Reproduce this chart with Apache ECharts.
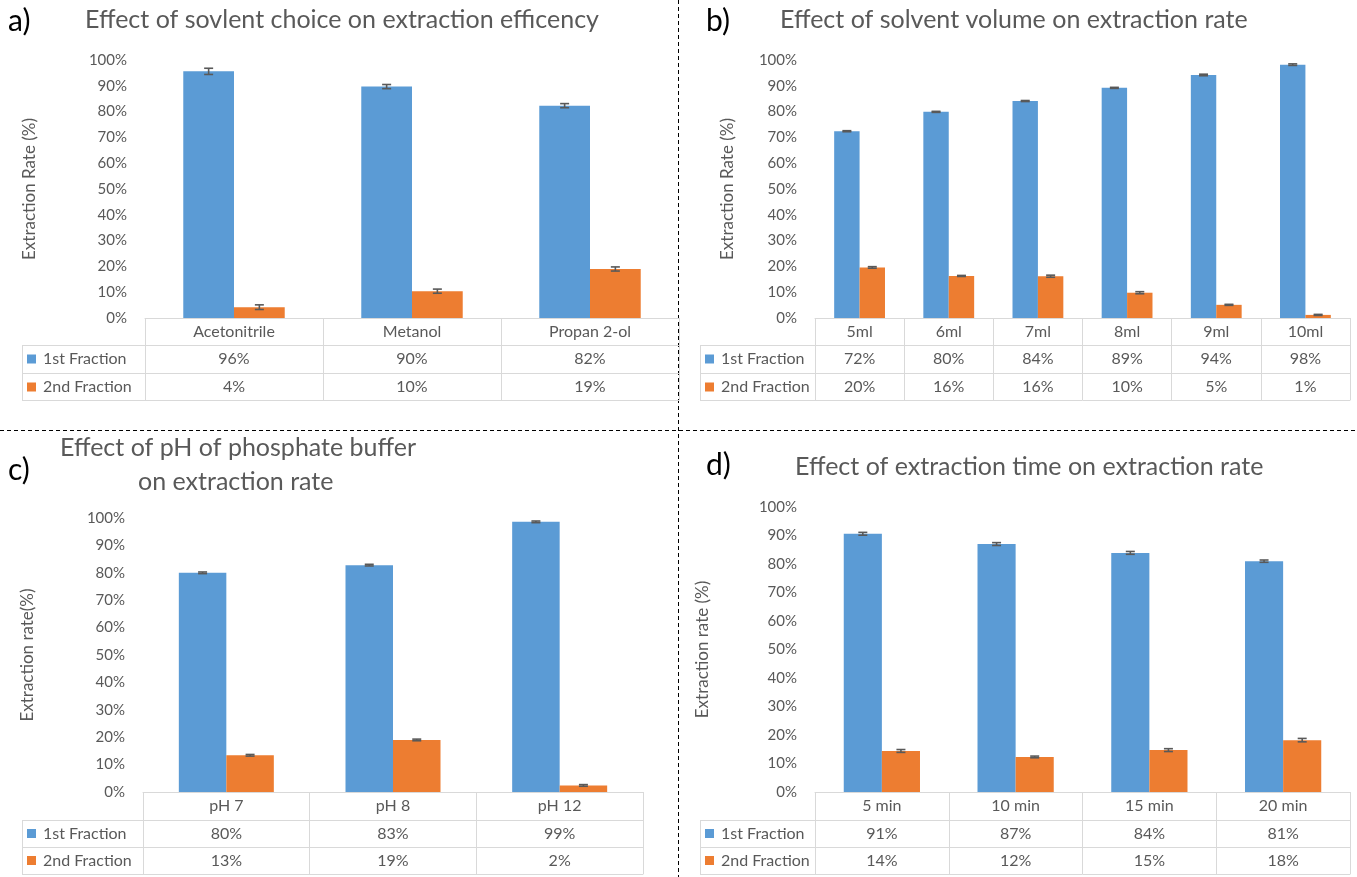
<!DOCTYPE html>
<html><head><meta charset="utf-8">
<script src="https://cdn.jsdelivr.net/npm/echarts@6/dist/echarts.min.js"></script>
<style>html,body{margin:0;padding:0;background:#fff}#c{width:1357px;height:877px}</style>
</head><body><div id="c"></div>
<script>
// ---------- DATA ----------
const seriesNames = ['1st Fraction', '2nd Fraction'];

const catsA = ['Acetonitrile', 'Metanol', 'Propan 2-ol'];
const firstA = [95.6, 89.7, 82.3];
const secondA = [4.2, 10.4, 19.0];
const errFirstA = [1.2, 0.8, 0.8];
const errSecondA = [0.9, 0.8, 0.8];

const catsB = ['5ml', '6ml', '7ml', '8ml', '9ml', '10ml'];
const firstB = [72.4, 79.9, 84.1, 89.2, 94.2, 98.2];
const secondB = [19.6, 16.3, 16.2, 9.8, 5.1, 1.2];
const errFirstB = [0.2, 0.2, 0.2, 0.2, 0.3, 0.3];
const errSecondB = [0.3, 0.2, 0.4, 0.4, 0.2, 0.2];

const catsC = ['pH 7', 'pH 8', 'pH 12'];
const firstC = [80.0, 82.8, 98.6];
const secondC = [13.4, 19.0, 2.4];
const errFirstC = [0.3, 0.3, 0.3];
const errSecondC = [0.3, 0.3, 0.3];

const catsD = ['5 min', '10 min', '15 min', '20 min'];
const firstD = [90.6, 87.0, 83.9, 81.0];
const secondD = [14.4, 12.3, 14.7, 18.2];
const errFirstD = [0.5, 0.5, 0.5, 0.4];
const errSecondD = [0.5, 0.3, 0.5, 0.6];

const titles = [
  'Effect of sovlent choice on extraction efficency',
  'Effect of solvent volume on extraction rate',
  'Effect of pH of phosphate buffer',
  'on extraction rate',
  'Effect of extraction time on extraction rate'
];
const panelLabels = ['a)', 'b)', 'c)', 'd)'];
const yNames = ['Extraction Rate (%)', 'Extraction Rate (%)', 'Extraction rate(%)', 'Extraction rate (%)'];

// ---------- STYLE / LAYOUT ----------
const FONT = 'Lato, "Open Sans", sans-serif';
const BLUE = '#5b9bd5', ORANGE = '#ed7d31', GRAY = '#595959', LINE = '#d9d9d9';
const BAR_PCT = 0.285;

const panels = [
  {cats: catsA, first: firstA, second: secondA, ef: errFirstA, es: errSecondA,
   L: 145, R: 679, T: 60, rows: [318, 345, 373, 400], tableLeft: 22, nameGap: 107, yName: yNames[0]},
  {cats: catsB, first: firstB, second: secondB, ef: errFirstB, es: errSecondB,
   L: 815, R: 1350, T: 60, rows: [318, 345, 373, 400], tableLeft: 700, nameGap: 79, yName: yNames[1]},
  {cats: catsC, first: firstC, second: secondC, ef: errFirstC, es: errSecondC,
   L: 143, R: 643, T: 518, rows: [792, 820, 847, 874], tableLeft: 22, nameGap: 107, yName: yNames[2]},
  {cats: catsD, first: firstD, second: secondD, ef: errFirstD, es: errSecondD,
   L: 815, R: 1350, T: 507, rows: [792, 820, 847, 874], tableLeft: 700, nameGap: 104, yName: yNames[3]}
];

const fmt = v => Math.round(v) + '%';

function errRender(dir, n) {
  return function (params, api) {
    const c = api.value(0), v = api.value(1), e = api.value(2);
    const band = params.coordSys.width / n;
    const off = dir * band * BAR_PCT / 2;
    const top = api.coord([c, v + e]);
    const bot = api.coord([c, v - e]);
    const x = top[0] + off, hw = 4.5;
    const st = {stroke: GRAY, lineWidth: 1.6};
    return {type: 'group', children: [
      {type: 'line', shape: {x1: x, y1: top[1], x2: x, y2: bot[1]}, style: st},
      {type: 'line', shape: {x1: x - hw, y1: top[1], x2: x + hw, y2: top[1]}, style: st},
      {type: 'line', shape: {x1: x - hw, y1: bot[1], x2: x + hw, y2: bot[1]}, style: st}
    ]};
  };
}

const grid = [], xAxis = [], yAxis = [], series = [], legend = [], graphic = [];

panels.forEach((p, i) => {
  const r = p.rows;
  grid.push({left: p.L, top: p.T, width: p.R - p.L, height: r[0] - p.T, containLabel: false});
  const base = {type: 'category', gridIndex: i, position: 'bottom',
    axisLine: {show: true, lineStyle: {color: LINE, width: 1}},
    splitLine: {show: false}};
  const lab = {interval: 0, margin: 6, fontSize: 16, color: GRAY, fontFamily: FONT};
  xAxis.push(Object.assign({}, base, {data: p.cats, offset: 0,
    axisTick: {show: true, interval: 0, length: r[1] - r[0], lineStyle: {color: LINE}},
    axisLabel: lab}));
  xAxis.push(Object.assign({}, base, {data: p.first.map(fmt), offset: r[1] - r[0],
    axisTick: {show: true, interval: 0, length: r[2] - r[1], lineStyle: {color: LINE}},
    axisLabel: lab}));
  xAxis.push(Object.assign({}, base, {data: p.second.map(fmt), offset: r[2] - r[0],
    axisTick: {show: true, interval: 0, length: r[3] - r[2], lineStyle: {color: LINE}},
    axisLabel: lab}));
  xAxis.push(Object.assign({}, base, {data: p.cats, offset: r[3] - r[0],
    axisTick: {show: false}, axisLabel: {show: false}}));

  yAxis.push({type: 'value', gridIndex: i, min: 0, max: 100, interval: 10,
    axisLine: {show: false}, axisTick: {show: false}, splitLine: {show: false},
    axisLabel: {formatter: '{value}%', margin: 18, fontSize: 15, color: GRAY, fontFamily: FONT},
    name: p.yName, nameLocation: 'middle', nameGap: p.nameGap,
    nameTextStyle: {fontSize: 17, color: GRAY, fontFamily: FONT}});

  const xi = i * 4;
  series.push({type: 'bar', name: seriesNames[0], xAxisIndex: xi, yAxisIndex: i,
    data: p.first, barWidth: (BAR_PCT * 100) + '%', barGap: '0%',
    itemStyle: {color: BLUE}, silent: true});
  series.push({type: 'bar', name: seriesNames[1], xAxisIndex: xi, yAxisIndex: i,
    data: p.second, barWidth: (BAR_PCT * 100) + '%', barGap: '0%',
    itemStyle: {color: ORANGE}, silent: true});
  series.push({type: 'custom', name: 'err1-' + i, xAxisIndex: xi, yAxisIndex: i, z: 5,
    renderItem: errRender(-1, p.cats.length), encode: {x: 0, y: 1},
    data: p.first.map((v, k) => [k, v, p.ef[k]]), silent: true});
  series.push({type: 'custom', name: 'err2-' + i, xAxisIndex: xi, yAxisIndex: i, z: 5,
    renderItem: errRender(1, p.cats.length), encode: {x: 0, y: 1},
    data: p.second.map((v, k) => [k, v, p.es[k]]), silent: true});

  const rh = r[2] - r[1];
  legend.push({data: seriesNames, orient: 'vertical', left: p.tableLeft + 5, top: r[1] + (rh - 16) / 2,
    itemGap: rh - 16, itemWidth: 9, itemHeight: 9, icon: 'rect', padding: 0,
    textStyle: {fontSize: 16, color: GRAY, fontFamily: FONT, padding: [0, 0, 0, 2]},
    selectedMode: false});

  // legend-column borders of the data table
  const ls = {stroke: LINE, lineWidth: 1};
  [r[1], r[2], r[3]].forEach(y => graphic.push({type: 'line', silent: true,
    shape: {x1: p.tableLeft, y1: y + 0.5, x2: p.L, y2: y + 0.5}, style: ls}));
  graphic.push({type: 'line', silent: true,
    shape: {x1: p.tableLeft + 0.5, y1: r[1], x2: p.tableLeft + 0.5, y2: r[3]}, style: ls});
});

// dashed separators
const ds = {stroke: '#000', lineWidth: 1, lineDash: [4, 3]};
graphic.push({type: 'line', silent: true, shape: {x1: 678.5, y1: 0, x2: 678.5, y2: 877}, style: ds});
graphic.push({type: 'line', silent: true, shape: {x1: 0, y1: 430.5, x2: 1357, y2: 430.5}, style: ds});

const tStyle = {fontSize: 25, color: GRAY, fontWeight: 'normal', fontFamily: FONT};
const lStyle = {fontSize: 30, color: '#000', fontWeight: 'normal', fontFamily: FONT};
const title = [
  {text: panelLabels[0], left: 8, top: 6, padding: 0, textStyle: lStyle},
  {text: panelLabels[1], left: 706, top: 6, padding: 0, textStyle: lStyle},
  {text: panelLabels[2], left: 8, top: 455, padding: 0, textStyle: lStyle},
  {text: panelLabels[3], left: 706, top: 450, padding: 0, textStyle: lStyle},
  {text: titles[0], left: 85, top: 7, padding: 0, textStyle: tStyle},
  {text: titles[1], left: 780, top: 7, padding: 0, textStyle: tStyle},
  {text: titles[2], left: 60, top: 435, padding: 0, textStyle: tStyle},
  {text: titles[3], left: 138, top: 469, padding: 0, textStyle: tStyle},
  {text: titles[4], left: 795, top: 454, padding: 0, textStyle: tStyle}
];

const chart = echarts.init(document.getElementById('c'), null, {renderer: 'canvas'});
chart.setOption({
  animation: false,
  backgroundColor: '#fff',
  textStyle: {fontFamily: FONT},
  title, grid, xAxis, yAxis, series, legend, graphic
});
</script></body></html>
